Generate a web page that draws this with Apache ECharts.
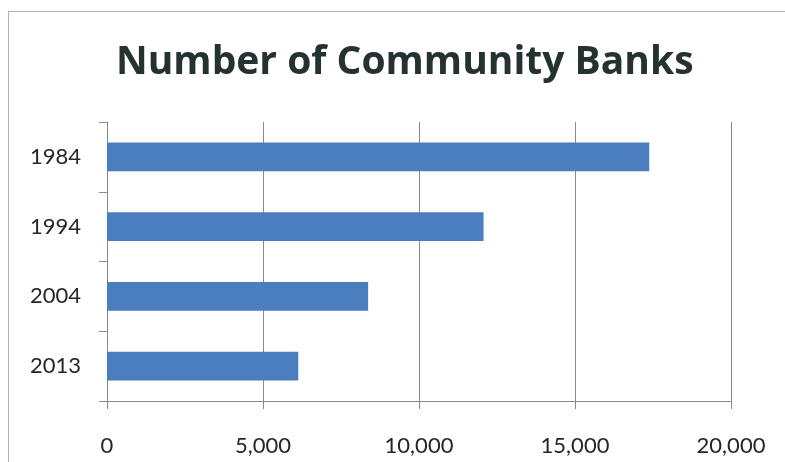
<!DOCTYPE html>
<html>
<head>
<meta charset="utf-8">
<script src="https://cdn.jsdelivr.net/npm/echarts@6/dist/echarts.min.js"></script>
<style>
html,body{margin:0;padding:0;background:#fff;}
#frame{position:absolute;left:8px;top:11px;width:900px;height:600px;border:1px solid #b4b4b4;box-sizing:border-box;}
#chart{position:absolute;left:0;top:0;width:785px;height:462px;}
</style>
</head>
<body>
<div id="frame"></div>
<div id="chart"></div>
<script>
var titleText = 'Number of Community Banks';
var categories = ['1984', '1994', '2004', '2013'];
var banks = [17380, 12070, 8370, 6130];
var xMin = 0, xMax = 20000, xStep = 5000;

var chart = echarts.init(document.getElementById('chart'), null, {renderer: 'canvas'});
var labelFont = {fontFamily: 'Lato', fontSize: 22, color: '#262626'};
chart.setOption({
  backgroundColor: 'transparent',
  animation: false,
  title: {
    text: titleText,
    left: 111,
    top: 38,
    textStyle: {fontFamily: 'Open Sans', fontWeight: 'bold', fontSize: 39, color: '#243232'}
  },
  grid: {left: 107, right: 54, top: 122, bottom: 61, containLabel: false},
  xAxis: {
    type: 'value',
    min: xMin, max: xMax, interval: xStep,
    axisLine: {show: true, lineStyle: {color: '#8a8a8a', width: 1}},
    axisTick: {show: true, length: 8, lineStyle: {color: '#8a8a8a'}},
    splitLine: {show: true, lineStyle: {color: '#8a8a8a', width: 1}},
    axisLabel: Object.assign({margin: 34, formatter: function (v) { return v.toLocaleString('en-US'); }}, labelFont)
  },
  yAxis: {
    type: 'category',
    inverse: true,
    data: categories,
    axisLine: {show: true, lineStyle: {color: '#8a8a8a', width: 1}},
    axisTick: {show: true, length: 8, lineStyle: {color: '#8a8a8a'}},
    axisLabel: Object.assign({margin: 26}, labelFont)
  },
  series: [{
    type: 'bar',
    data: banks,
    barWidth: '41%',
    itemStyle: {color: '#4a7ebf'}
  }]
});
</script>
</body>
</html>
